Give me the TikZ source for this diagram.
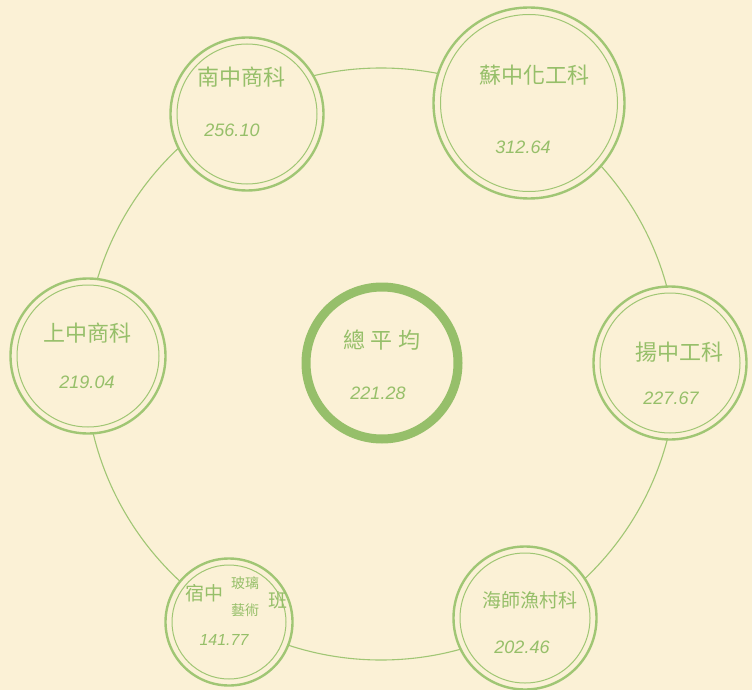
\documentclass[tikz,border=0pt]{standalone}
\usepackage{fontspec}
\setmainfont{Liberation Sans}
\newfontfamily\cjk{Noto Sans CJK TC}
\definecolor{paper}{HTML}{FBF1D6}
\definecolor{leaf}{HTML}{A0C674}
\definecolor{inkleaf}{HTML}{96BF69}
\definecolor{leafdark}{HTML}{96BF6A}
\begin{document}
\begin{tikzpicture}[x=1pt,y=-1pt,
  lab/.style={text=inkleaf, font=\cjk\fontsize{22}{24}\selectfont, inner sep=0pt},
  midlab/.style={text=inkleaf, font=\cjk\fontsize{19}{21}\selectfont, inner sep=0pt},
  smalllab/.style={text=inkleaf, font=\cjk\fontsize{14}{16}\selectfont, inner sep=0pt},
  num/.style={text=inkleaf, font=\itshape\fontsize{18}{20}\selectfont, inner sep=0pt},
  link/.style={draw=leaf, line width=1.1pt}]
\fill[paper] (0,0) rectangle (752,690);
\useasboundingbox (0,0) rectangle (752,690);
% connecting ring
\node[circle, minimum size=592pt, inner sep=0pt, link] (big) at (381,364) {};
% nodes
\newcommand{\dring}[4]{%
  \node[circle, fill=paper, draw=leaf, line width=2.4pt, minimum size=#3pt, inner sep=0pt] (#1) at (#2) {};
  \node[circle, draw=leaf, line width=1pt, minimum size=#4pt, inner sep=0pt] (#1i) at (#2) {};}
\dring{nan}{247,114}{153}{140}
\dring{su}{529,103}{191}{177}
\dring{shang}{88,356}{155}{142}
\dring{yang}{670,363}{153}{140}
\dring{su2}{229,622}{127}{114}
\dring{hai}{525,618}{143}{130}
\node[circle, fill=paper, draw=leafdark, line width=9pt, minimum size=152pt, inner sep=0pt] (avg) at (382,363) {};
% labels
\node[lab] (t1) at (241,77) {南中商科};
\node[num] (n1) at (232,130) {256.10};
\node[lab] (t2) at (534,75) {蘇中化工科};
\node[num] (n2) at (523,147) {312.64};
\node[lab] (t3) at (87,333) {上中商科};
\node[num] (n3) at (87,382) {219.04};
\node[lab] (t4) at (679,352) {揚中工科};
\node[num] (n4) at (671,398) {227.67};
\node[lab] (t5) at (382,340) {總\hspace{6pt}平\hspace{6pt}均};
\node[num] (n5) at (378,393) {221.28};
\node[midlab] (t6a) at (204,593) {宿中};
\node[smalllab] (t6b) at (245,583) {玻璃};
\node[smalllab] (t6c) at (245,610) {藝術};
\node[midlab] (t6d) at (278,600) {班};
\node[num, font=\itshape\fontsize{16}{18}\selectfont] (n6) at (224,640) {141.77};
\node[midlab] (t7) at (530,600) {海師漁村科};
\node[num] (n7) at (522,647) {202.46};
\end{tikzpicture}
\end{document}
